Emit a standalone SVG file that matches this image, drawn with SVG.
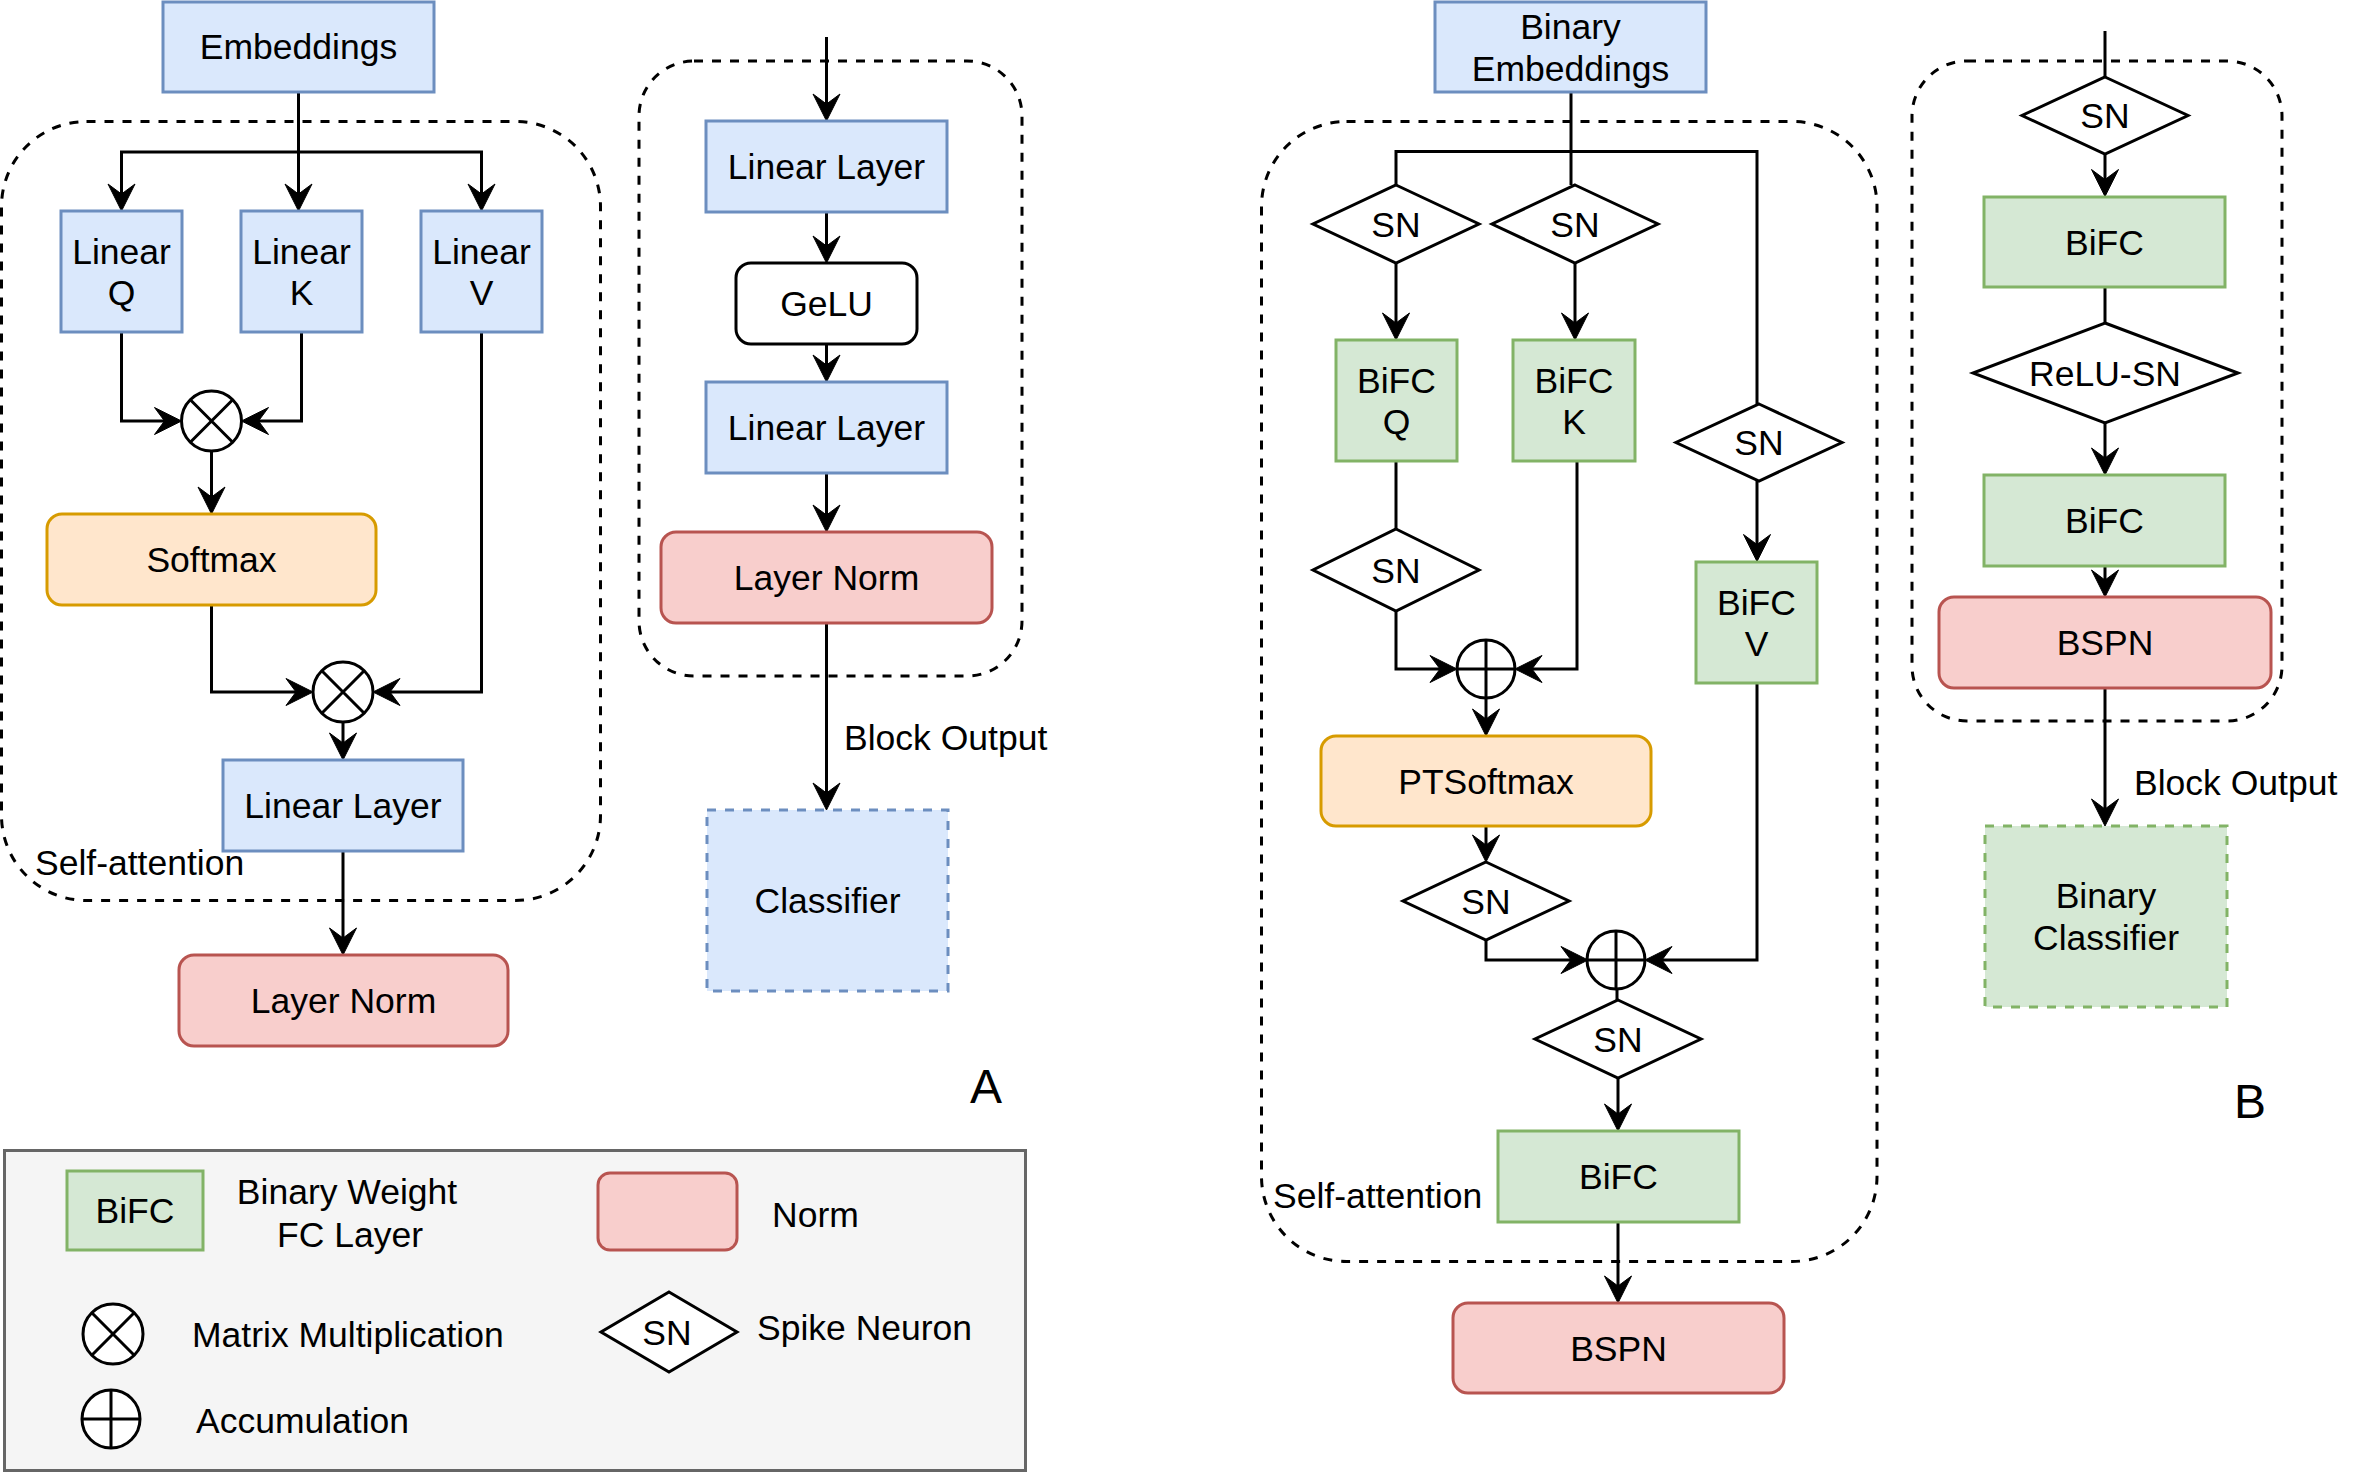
<svg xmlns="http://www.w3.org/2000/svg" width="2373" height="1473" viewBox="0 0 2373 1473">
<style>
text{font-family:"Liberation Sans",Arial,sans-serif;font-size:35.5px;fill:#000}
.c{text-anchor:middle}
.blue{fill:#dae8fc;stroke:#6c8ebf;stroke-width:3}
.green{fill:#d5e8d4;stroke:#82b366;stroke-width:3}
.red{fill:#f8cecc;stroke:#b85450;stroke-width:3}
.orange{fill:#ffe6cc;stroke:#d79b00;stroke-width:3}
.plain{fill:#fff;stroke:#000;stroke-width:3}
.dash{fill:none;stroke:#000;stroke-width:3;stroke-dasharray:9 9}
.bdash{stroke-dasharray:9 9}
.ln{fill:none;stroke:#000;stroke-width:3}
.ar{marker-end:url(#arr)}
</style>
<defs>
<marker id="arr" markerUnits="userSpaceOnUse" orient="auto" refX="0" refY="0" markerWidth="40" markerHeight="40" overflow="visible">
<path d="M10,0 L-17,-13.5 L-7,0 L-17,13.5 Z" fill="#000" stroke="#000" stroke-width="1"/>
</marker>
</defs>
<rect width="2373" height="1473" fill="#fff"/>

<!-- containers -->
<g id="containers">
<rect id="selfattn-A" class="dash" x="1.5" y="121.5" width="599" height="779" rx="85"/>
<rect id="ffn-A" class="dash" x="639" y="61" width="383" height="615" rx="55"/>
<rect id="selfattn-B" class="dash" x="1261.5" y="121.5" width="615.5" height="1140" rx="85"/>
<rect id="ffn-B" class="dash" x="1912" y="61" width="370" height="660" rx="55"/>
</g>

<!-- connectors -->
<g id="connectors">
<path class="ln ar" d="M298.5,92 V201"/>
<path class="ln ar" d="M298.5,152 H121.5 V201"/>
<path class="ln ar" d="M298.5,152 H481.5 V201"/>
<path class="ln ar" d="M121.5,332 V421 H171.5"/>
<path class="ln ar" d="M301.5,332 V421 H251.5"/>
<path class="ln ar" d="M211.5,451 V504"/>
<path class="ln ar" d="M211.5,605 V692 H303"/>
<path class="ln ar" d="M481.5,332 V692 H383"/>
<path class="ln ar" d="M343,722 V750"/>
<path class="ln ar" d="M343,851 V945"/>

<path class="ln ar" d="M826.5,37 V111"/>
<path class="ln ar" d="M826.5,212 V253"/>
<path class="ln ar" d="M826.5,344 V372"/>
<path class="ln ar" d="M826.5,473 V522"/>
<path class="ln ar" d="M826.5,623 V800"/>

<path class="ln" d="M1571,92 V185"/>
<path class="ln" d="M1571,151.5 H1396 V185"/>
<path class="ln" d="M1571,151.5 H1757 V404"/>
<path class="ln ar" d="M1396,263 V330"/>
<path class="ln ar" d="M1575,263 V330"/>
<path class="ln ar" d="M1757,481 V551.5"/>
<path class="ln" d="M1396,460.5 V529"/>
<path class="ln ar" d="M1396,611 V669 H1447"/>
<path class="ln ar" d="M1577,460.5 V669 H1525"/>
<path class="ln ar" d="M1486,698 V726"/>
<path class="ln ar" d="M1486,826 V852"/>
<path class="ln ar" d="M1486,940 V960 H1578"/>
<path class="ln ar" d="M1757,683 V960 H1655"/>
<path class="ln" d="M1617,989 V1000"/>
<path class="ln ar" d="M1618,1078 V1121"/>
<path class="ln ar" d="M1618,1222 V1293"/>

<path class="ln" d="M2105,31 V77"/>
<path class="ln ar" d="M2105,154 V186.5"/>
<path class="ln" d="M2105,287 V323"/>
<path class="ln ar" d="M2105,423 V465"/>
<path class="ln ar" d="M2105,566 V587"/>
<path class="ln ar" d="M2105,688 V816"/>
</g>

<!-- Panel A: self-attention -->
<g id="embeddings"><rect class="blue" x="163" y="2" width="271" height="90"/><text class="c" x="298.5" y="59">Embeddings</text></g>
<g id="linear-q"><rect class="blue" x="61" y="211" width="121" height="121"/><text class="c" x="121.5" y="263.5">Linear</text><text class="c" x="121.5" y="305">Q</text></g>
<g id="linear-k"><rect class="blue" x="241" y="211" width="121" height="121"/><text class="c" x="301.5" y="263.5">Linear</text><text class="c" x="301.5" y="305">K</text></g>
<g id="linear-v"><rect class="blue" x="421" y="211" width="121" height="121"/><text class="c" x="481.5" y="263.5">Linear</text><text class="c" x="481.5" y="305">V</text></g>
<g id="matmul-1"><circle class="plain" cx="211.5" cy="421" r="30"/><path class="ln" d="M190.3,399.8 L232.7,442.2 M232.7,399.8 L190.3,442.2"/></g>
<g id="softmax"><rect class="orange" x="47" y="514" width="329" height="91" rx="15"/><text class="c" x="211.5" y="572">Softmax</text></g>
<g id="matmul-2"><circle class="plain" cx="343" cy="692" r="30"/><path class="ln" d="M321.8,670.8 L364.2,713.2 M364.2,670.8 L321.8,713.2"/></g>
<g id="linear-layer-a"><rect class="blue" x="223" y="760" width="240" height="91"/><text class="c" x="343" y="818">Linear Layer</text></g>
<g id="layernorm-a1"><rect class="red" x="179" y="955" width="329" height="91" rx="15"/><text class="c" x="343.5" y="1013">Layer Norm</text></g>
<text id="label-sa-a" x="35" y="875">Self-attention</text>

<!-- Panel A: FFN -->
<g id="linear-layer-1"><rect class="blue" x="706" y="121" width="241" height="91"/><text class="c" x="826.5" y="179">Linear Layer</text></g>
<g id="gelu"><rect class="plain" x="736" y="263" width="181" height="81" rx="15"/><text class="c" x="826.5" y="316">GeLU</text></g>
<g id="linear-layer-2"><rect class="blue" x="706" y="382" width="241" height="91"/><text class="c" x="826.5" y="440">Linear Layer</text></g>
<g id="layernorm-a2"><rect class="red" x="661" y="532" width="331" height="91" rx="15"/><text class="c" x="826.5" y="590">Layer Norm</text></g>
<g id="classifier"><rect class="blue bdash" x="707" y="810" width="241" height="181"/><text class="c" x="827.5" y="913">Classifier</text></g>
<text id="block-output-a" x="844" y="750">Block Output</text>
<text id="label-A" x="970" y="1103" style="font-size:48px">A</text>

<!-- Panel B: self-attention -->
<g id="binary-embeddings"><rect class="blue" x="1435" y="2" width="271" height="90"/><text class="c" x="1570.5" y="39">Binary</text><text class="c" x="1570.5" y="80.5">Embeddings</text></g>
<g id="sn-q"><polygon class="plain" points="1396,185 1479,224 1396,263 1313,224"/><text class="c" x="1396" y="236.5">SN</text></g>
<g id="sn-k"><polygon class="plain" points="1575,185 1658,224 1575,263 1492,224"/><text class="c" x="1575" y="236.5">SN</text></g>
<g id="sn-v"><polygon class="plain" points="1759,404 1842,442.5 1759,481 1676,442.5"/><text class="c" x="1759" y="455">SN</text></g>
<g id="bifc-q"><rect class="green" x="1336" y="340" width="121" height="121"/><text class="c" x="1396.5" y="392.5">BiFC</text><text class="c" x="1396.5" y="434">Q</text></g>
<g id="bifc-k"><rect class="green" x="1513" y="340" width="122" height="121"/><text class="c" x="1574" y="392.5">BiFC</text><text class="c" x="1574" y="434">K</text></g>
<g id="bifc-v"><rect class="green" x="1696" y="562" width="121" height="121"/><text class="c" x="1756.5" y="614.5">BiFC</text><text class="c" x="1756.5" y="656">V</text></g>
<g id="sn-q2"><polygon class="plain" points="1396,529 1479,570 1396,611 1313,570"/><text class="c" x="1396" y="582.5">SN</text></g>
<g id="acc-1"><circle class="plain" cx="1486" cy="669" r="29"/><path class="ln" d="M1486,640 V698 M1457,669 H1515"/></g>
<g id="ptsoftmax"><rect class="orange" x="1321" y="736" width="330" height="90" rx="15"/><text class="c" x="1486" y="793.5">PTSoftmax</text></g>
<g id="sn-3"><polygon class="plain" points="1486,862 1569,901 1486,940 1403,901"/><text class="c" x="1486" y="913.5">SN</text></g>
<g id="acc-2"><circle class="plain" cx="1616" cy="960" r="29"/><path class="ln" d="M1616,931 V989 M1587,960 H1645"/></g>
<g id="sn-4"><polygon class="plain" points="1618,1000 1701,1039 1618,1078 1535,1039"/><text class="c" x="1618" y="1051.5">SN</text></g>
<g id="bifc-out"><rect class="green" x="1498" y="1131" width="241" height="91"/><text class="c" x="1618.5" y="1189">BiFC</text></g>
<g id="bspn-b1"><rect class="red" x="1453" y="1303" width="331" height="90" rx="15"/><text class="c" x="1618.5" y="1360.5">BSPN</text></g>
<text id="label-sa-b" x="1273" y="1208">Self-attention</text>

<!-- Panel B: FFN -->
<g id="sn-ffn"><polygon class="plain" points="2105,77 2188,115.5 2105,154 2022,115.5"/><text class="c" x="2105" y="128">SN</text></g>
<g id="bifc-1"><rect class="green" x="1984" y="197" width="241" height="90"/><text class="c" x="2104.5" y="254.5">BiFC</text></g>
<g id="relu-sn"><polygon class="plain" points="2105,323 2238,373 2105,423 1973,373"/><text class="c" x="2105" y="385.5">ReLU-SN</text></g>
<g id="bifc-2"><rect class="green" x="1984" y="475" width="241" height="91"/><text class="c" x="2104.5" y="533">BiFC</text></g>
<g id="bspn-b2"><rect class="red" x="1939" y="597" width="332" height="91" rx="15"/><text class="c" x="2105" y="655">BSPN</text></g>
<g id="binary-classifier"><rect class="green bdash" x="1985" y="826" width="242" height="181"/><text class="c" x="2106" y="908">Binary</text><text class="c" x="2106" y="949.5">Classifier</text></g>
<text id="block-output-b" x="2134" y="795">Block Output</text>
<text id="label-B" x="2234" y="1118" style="font-size:48px">B</text>

<!-- Legend -->
<g id="legend">
<rect x="4.5" y="1150.5" width="1021" height="320" fill="#f5f5f5" stroke="#666666" stroke-width="3"/>
<g id="legend-bifc"><rect class="green" x="67" y="1171" width="136" height="79"/><text class="c" x="135" y="1223">BiFC</text></g>
<text class="c" x="347" y="1204">Binary Weight</text>
<text class="c" x="350" y="1246.5">FC Layer</text>
<g id="legend-norm"><rect class="red" x="598" y="1173" width="139" height="77" rx="12"/></g>
<text x="772" y="1226.5">Norm</text>
<g id="legend-matmul"><circle class="plain" cx="113" cy="1334" r="30"/><path class="ln" d="M91.8,1312.8 L134.2,1355.2 M134.2,1312.8 L91.8,1355.2"/></g>
<text x="192" y="1346.5">Matrix Multiplication</text>
<g id="legend-sn"><polygon class="plain" points="669,1292 737,1332 669,1372 601,1332"/><text class="c" x="667" y="1344.5">SN</text></g>
<text x="757" y="1340">Spike Neuron</text>
<g id="legend-acc"><circle class="plain" cx="111" cy="1419" r="29"/><path class="ln" d="M111,1390 V1448 M82,1419 H140"/></g>
<text x="196" y="1433">Accumulation</text>
</g>
</svg>
